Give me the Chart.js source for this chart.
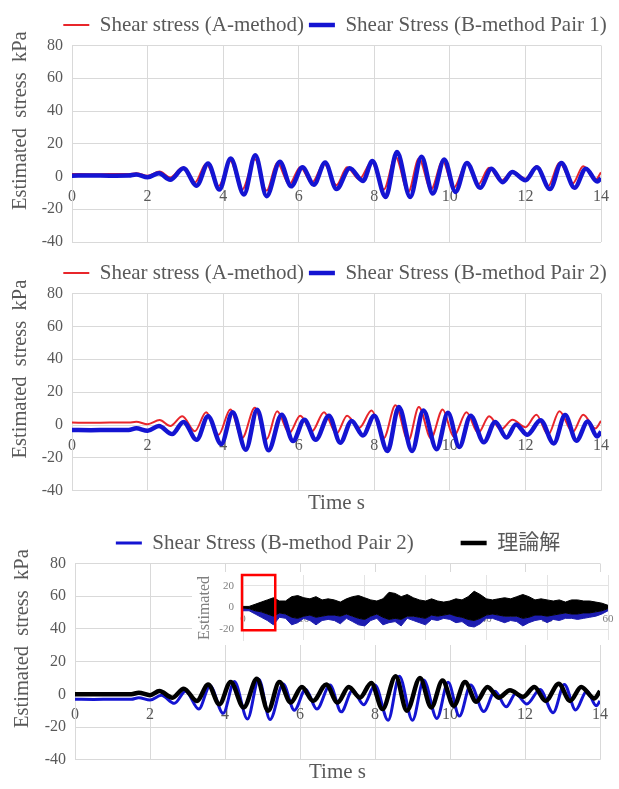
<!DOCTYPE html>
<html>
<head>
<meta charset="utf-8">
<script src="https://cdn.jsdelivr.net/npm/chart.js@4/dist/chart.umd.min.js"></script>
<style>
  html, body { margin: 0; padding: 0; background: #fff; width: 619px; height: 789px; overflow: hidden; }
  canvas { position: absolute; left: 0; }
  #c1 { top: 0; }
  #c2 { top: 248px; }
  #c3 { top: 518px; }
  #inset { left: 192px; top: 572px; }
</style>
</head>
<body>
<canvas id="c1" width="670" height="250"></canvas>
<canvas id="c2" width="670" height="268"></canvas>
<canvas id="c3" width="676" height="267"></canvas>
<canvas id="inset" width="427" height="73"></canvas>
<script>
// ---- data (peaks / troughs of each trace) ----
const aTime = [0, 0.5, 1.0, 1.5, 1.7, 2.0, 2.32, 2.6, 2.92, 3.25, 3.55, 3.88, 4.19, 4.5, 4.84, 5.15, 5.43, 5.75, 6.04, 6.35, 6.67, 7.0, 7.28, 7.6, 7.93, 8.25, 8.56, 8.9, 9.18, 9.5, 9.81, 10.1, 10.44, 10.75, 11.04, 11.35, 11.66, 12.0, 12.29, 12.6, 12.9, 13.25, 13.53, 13.85, 14];
const aStress = [1.5, 1.4, 1.5, 1.5, 2.0, 0.5, 3.0, -0.6, 5.3, -3.8, 7.8, -5.9, 9.5, -8.0, 10.5, -8.6, 8.4, -4.8, 5.7, -3.8, 7.8, -5.3, 5.7, -1.7, 8.8, -8.0, 12.0, -9.5, 11.0, -8.0, 9.5, -7.0, 7.8, -4.8, 5.3, -2.7, 3.2, -1.3, 6.3, -5.9, 8.4, -4.2, 6.3, -2.1, 2.5];

const b1Time = [0, 0.5, 1.0, 1.5, 1.7, 2.0, 2.3, 2.6, 2.95, 3.3, 3.6, 3.9, 4.2, 4.55, 4.85, 5.15, 5.5, 5.8, 6.1, 6.4, 6.7, 7.0, 7.35, 7.7, 7.95, 8.3, 8.6, 8.95, 9.25, 9.55, 9.85, 10.15, 10.45, 10.8, 11.1, 11.4, 11.65, 12.0, 12.3, 12.65, 12.95, 13.3, 13.6, 13.9, 14];
const b1Stress = [0.5, 0.6, 0.5, 0.6, 1.2, -0.5, 2.0, -2.0, 5.0, -5.6, 8.0, -8.0, 11.0, -11.0, 13.0, -12.0, 9.0, -6.0, 5.6, -5.0, 8.5, -7.7, 5.0, -2.7, 9.4, -12.5, 15.0, -12.5, 12.0, -10.4, 10.4, -9.4, 8.3, -6.9, 4.8, -3.5, 2.7, -2.3, 5.6, -7.7, 8.3, -6.9, 4.8, -3.1, -1.0];

const b2Time = [0, 0.5, 1.0, 1.5, 1.7, 2.0, 2.3, 2.65, 2.95, 3.3, 3.6, 3.95, 4.25, 4.6, 4.9, 5.2, 5.55, 5.85, 6.15, 6.45, 6.8, 7.1, 7.4, 7.7, 8.0, 8.35, 8.65, 9.0, 9.3, 9.65, 9.95, 10.25, 10.55, 10.9, 11.2, 11.5, 11.75, 12.05, 12.4, 12.75, 13.05, 13.35, 13.65, 13.9, 14];
const b2Stress = [-3.0, -3.1, -3.0, -3.0, -2.0, -3.5, -0.6, -5.5, 1.9, -9.0, 5.3, -11.6, 7.8, -15.0, 9.3, -15.4, 6.3, -9.7, 3.2, -9.0, 5.7, -10.7, 2.5, -6.3, 5.7, -15.8, 11.0, -15.8, 8.8, -14.7, 7.4, -13.3, 5.7, -10.5, 1.9, -7.6, 0.4, -5.9, 2.9, -11.2, 6.1, -9.5, 2.1, -7.0, -4.0];

const thTime = [0, 0.5, 1.0, 1.5, 1.7, 2.0, 2.25, 2.6, 2.9, 3.25, 3.55, 3.85, 4.15, 4.5, 4.85, 5.15, 5.45, 5.75, 6.05, 6.35, 6.7, 7.0, 7.3, 7.6, 7.9, 8.2, 8.55, 8.85, 9.2, 9.5, 9.8, 10.1, 10.4, 10.7, 11.0, 11.3, 11.6, 11.95, 12.25, 12.55, 12.9, 13.2, 13.5, 13.85, 14];
const thStress = [0, 0.1, 0, 0.1, 1.0, -0.5, 2.0, -2.0, 3.5, -4.0, 6.0, -6.0, 7.5, -8.0, 9.5, -10.0, 7.5, -5.0, 4.5, -4.0, 6.0, -5.0, 4.5, -2.0, 7.0, -9.0, 11.0, -10.0, 10.0, -8.0, 8.5, -7.0, 7.5, -4.5, 4.5, -2.0, 2.5, -1.5, 4.5, -4.0, 6.5, -4.0, 4.5, -2.5, 2.0];

// inset: whole 60 s record, envelopes per second
const insetTime = [0, 1, 2, 3, 4, 5, 6, 7, 8, 9, 10, 11, 12, 13, 14, 15, 16, 17, 18, 19, 20, 21, 22, 23, 24, 25, 26, 27, 28, 29, 30, 31, 32, 33, 34, 35, 36, 37, 38, 39, 40, 41, 42, 43, 44, 45, 46, 47, 48, 49, 50, 51, 52, 53, 54, 55, 56, 57, 58, 59, 60];
const thHigh = [1, 1, 3, 5, 7, 9, 6, 6, 10, 11, 9, 8, 10, 7, 8, 7, 5, 8, 10, 11, 9, 7, 6, 8, 14, 13, 10, 12, 9, 7, 6, 8, 6, 5, 6, 8, 7, 10, 15, 12, 8, 7, 8, 9, 8, 10, 12, 10, 7, 8, 7, 6, 7, 5, 7, 7, 6, 6, 5, 4, 2];
const thLow = [-0.5, -1, -3, -4, -6, -8, -5, -6, -9, -10, -8, -7, -9, -8, -7, -7, -8, -6, -8, -10, -11, -8, -6, -9, -11, -10, -11, -8, -8, -9, -10, -7, -8, -7, -6, -8, -9, -11, -12, -10, -7, -6, -7, -8, -8, -8, -10, -9, -7, -7, -8, -7, -6, -5, -6, -6, -5, -5, -4, -3, -1];
const b2Low = [-3, -3, -6, -9, -12, -16, -9, -10, -16, -14, -10, -12, -16, -12, -11, -12, -15, -10, -13, -16, -17, -12, -10, -16, -14, -13, -17, -10, -12, -14, -16, -11, -12, -10, -11, -14, -13, -17, -18, -15, -10, -10, -12, -14, -12, -13, -17, -14, -12, -11, -14, -11, -12, -10, -10, -11, -10, -9, -8, -6, -3];
const insetTicks = [-20, 0, 20];
const focusWindow = [0, 5.3];   // red frame, seconds
const focusRange = [-21, 30];   // red frame, kPa

const SERIF = '"Liberation Serif", "Times New Roman", "Noto Sans CJK JP", serif';
const GRID = '#d9d9d9';
const TEXT = '#595959';
const RED = '#e8262b';
const BLUE = '#1414d2';
const yTitle = '         Estimated  stress  kPa';

Chart.defaults.font.family = SERIF;
Chart.defaults.color = TEXT;
Chart.defaults.animation = false;

function pairs(times, values) {
  return times.map((t, i) => ({ x: t, y: values[i] }));
}

function lineSet(label, times, values, color, width, order) {
  return {
    label,
    data: pairs(times, values),
    borderColor: color,
    backgroundColor: color,
    borderWidth: width,
    pointRadius: 0,
    pointBorderWidth: width,
    pointBorderColor: color,
    cubicInterpolationMode: 'monotone',
    fill: false,
    order,
    xAxisID: 'x',
    yAxisID: 'y'
  };
}

function stressChart(id, datasets, p) {
  const scales = {
    x: {
      type: 'linear', position: { y: 0 }, min: 0, max: 14,
      ticks: { stepSize: 2, padding: 11, font: { family: SERIF, size: 16 } },
      grid: { color: GRID, drawTicks: false },
      border: { color: GRID },
      afterFit: s => { s.paddingRight = p.right; }
    },
    y: {
      min: -40, max: 80,
      ticks: { stepSize: 20, padding: 9, font: { family: SERIF, size: 16 } },
      grid: { color: GRID, drawTicks: false },
      border: { color: GRID },
      title: { display: true, text: yTitle, font: { family: SERIF, size: 20.5 }, padding: { top: p.titlePad, bottom: 0 } },
      afterFit: s => { s.width = p.left; s.paddingTop = 45.5; s.paddingBottom = 0; }
    }
  };
  if (p.timeTitle) {
    scales.xt = {
      type: 'linear', position: 'bottom',
      ticks: { display: false },
      grid: { display: false, drawTicks: false },
      border: { display: false },
      title: { display: true, text: 'Time s', font: { family: SERIF, size: 21 }, padding: 0 }
    };
  }
  new Chart(document.getElementById(id), {
    type: 'line',
    data: { datasets },
    options: {
      responsive: false,
      layout: { padding: { top: 4.5, bottom: p.bottom, left: 0, right: 0 } },
      scales,
      plugins: {
        legend: {
          labels: {
            usePointStyle: true, pointStyle: 'line', pointStyleWidth: 26,
            padding: 5, font: { family: SERIF, size: 21 }, color: TEXT,
            sort: (a, b) => a.datasetIndex - b.datasetIndex
          }
        },
        tooltip: { enabled: false }
      }
    }
  });
}

stressChart('c1', [
  lineSet('Shear stress (A-method)', aTime, aStress, RED, 2, 1),
  lineSet('Shear Stress (B-method Pair 1)', b1Time, b1Stress, BLUE, 4.5, 0)
], { left: 72, right: 69, bottom: 8, titlePad: 8, timeTitle: false });

stressChart('c2', [
  lineSet('Shear stress (A-method)', aTime, aStress, RED, 2, 1),
  lineSet('Shear Stress (B-method Pair 2)', b2Time, b2Stress, BLUE, 4.5, 0)
], { left: 72, right: 69, bottom: 0, titlePad: 8, timeTitle: true });

// trailing spaces give the wide gap between the two legend entries
stressChart('c3', [
  lineSet('Shear Stress (B-method Pair 2)        ', b2Time, b2Stress, BLUE, 3, 1),
  lineSet('理論解', thTime, thStress, '#000000', 4.5, 0)
], { left: 75, right: 76, bottom: 0, titlePad: 10.5, timeTitle: true });

// ---- inset: full record with the zoomed window framed in red ----
const whiteBg = {
  id: 'whiteBg',
  beforeDraw(chart) {
    const ctx = chart.ctx;
    ctx.save();
    ctx.fillStyle = '#ffffff';
    ctx.fillRect(0, 0, chart.width, chart.height);
    ctx.restore();
  }
};

const focusBox = {
  id: 'focusBox',
  afterDatasetsDraw(chart) {
    const { ctx, scales: { x, y } } = chart;
    const x0 = x.getPixelForValue(focusWindow[0]) - 1;
    const x1 = x.getPixelForValue(focusWindow[1]);
    const y0 = y.getPixelForValue(focusRange[1]);
    const y1 = y.getPixelForValue(focusRange[0]);
    ctx.save();
    ctx.strokeStyle = '#ff0000';
    ctx.lineWidth = 2.5;
    ctx.strokeRect(x0, y0, x1 - x0, y1 - y0);
    ctx.restore();
  }
};

const INSET_GRID = '#e3e3e3';
const INSET_TEXT = '#808080';

new Chart(document.getElementById('inset'), {
  type: 'line',
  data: {
    datasets: [
      { label: '理論解', data: pairs(insetTime, thHigh), borderColor: '#000', backgroundColor: '#000', borderWidth: 1, pointRadius: 0, fill: 1 },
      { label: '理論解 low', data: pairs(insetTime, thLow), borderColor: '#000', backgroundColor: '#000', borderWidth: 1, pointRadius: 0, fill: false },
      { label: 'Shear Stress (B-method Pair 2)', data: pairs(insetTime, b2Low), borderColor: '#1c1cb0', backgroundColor: '#1c1cb0', borderWidth: 1, pointRadius: 0, fill: 1 }
    ]
  },
  options: {
    responsive: false,
    layout: { padding: { top: 3, bottom: 5, left: 0, right: 0 } },
    plugins: { legend: { display: false }, tooltip: { enabled: false } },
    scales: {
      x: {
        type: 'linear', position: { y: 0 }, min: 0, max: 60,
        ticks: { stepSize: 10, padding: 5, font: { family: SERIF, size: 11 }, color: INSET_TEXT },
        grid: { color: INSET_GRID, drawTicks: false },
        border: { display: false },
        afterFit: s => { s.paddingRight = 11; }
      },
      y: {
        min: -30, max: 30,
        afterBuildTicks: s => { s.ticks = insetTicks.map(v => ({ value: v })); },
        ticks: { padding: 9, font: { family: SERIF, size: 11 }, color: INSET_TEXT },
        grid: { color: INSET_GRID, drawTicks: false },
        border: { color: INSET_GRID },
        title: { display: true, text: 'Estimated  stress  kPa', align: 'start', color: INSET_TEXT, font: { family: SERIF, size: 16 }, padding: { top: 3, bottom: 0 } },
        afterFit: s => { s.width = 51; s.paddingTop = 0; s.paddingBottom = 0; }
      }
    }
  },
  plugins: [whiteBg, focusBox]
});
</script>
</body>
</html>
